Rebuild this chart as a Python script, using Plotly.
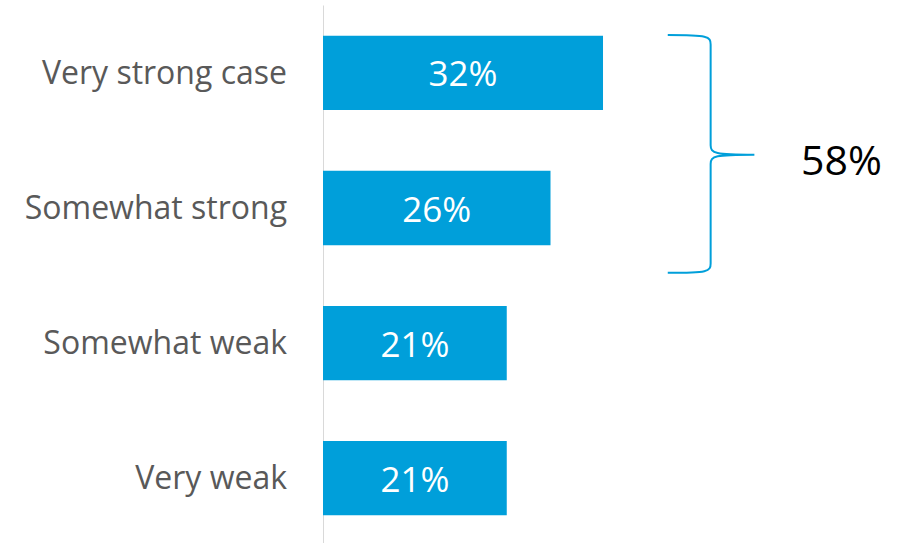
import plotly.graph_objects as go

# Survey responses: how strong is the case
categories = ["Very strong case", "Somewhat strong", "Somewhat weak", "Very weak"]
shares = [32, 26, 21, 21]
combined_label = "58%"   # Very strong + Somewhat strong

bar_color = "#009FDA"
font_family = "Open Sans, sans-serif"

fig = go.Figure(
    go.Bar(
        x=shares,
        y=categories,
        orientation="h",
        marker=dict(color=bar_color, line=dict(width=0)),
        width=0.55,
        text=[f"{v}%" for v in shares],
        textposition="inside",
        insidetextanchor="middle",
        textfont=dict(color="white", size=35, family=font_family),
        constraintext="none",
        hoverinfo="skip",
    )
)

# vertical baseline at x = 0
fig.add_shape(type="line", xref="x", yref="paper", x0=0, x1=0, y0=0, y1=0.99,
              line=dict(color="#D9D9D9", width=2), layer="below")

# curly brace grouping the two "strong" answers
bx0, bx1, bx2 = 39.4, 44.3, 49.3
ytop, ymid, ybot = -0.28, 0.605, 1.48
brace = (
    f"M {bx0},{ytop} "
    f"C {bx1 - 0.3},{ytop} {bx1},{ytop + 0.01} {bx1},{ytop + 0.07} "
    f"L {bx1},{ymid - 0.07} "
    f"C {bx1},{ymid - 0.01} {bx1 + 0.5},{ymid} {bx2},{ymid} "
    f"C {bx1 + 0.5},{ymid} {bx1},{ymid + 0.01} {bx1},{ymid + 0.07} "
    f"L {bx1},{ybot - 0.07} "
    f"C {bx1},{ybot - 0.01} {bx1 - 0.3},{ybot} {bx0},{ybot}"
)
fig.add_shape(type="path", xref="x", yref="y", path=brace,
              line=dict(color=bar_color, width=2))

fig.add_annotation(x=59.2, y=0.64, xref="x", yref="y", text=combined_label,
                   showarrow=False, xanchor="center", yanchor="middle",
                   font=dict(size=41, color="black", family=font_family))

fig.update_layout(
    width=907, height=543,
    margin=dict(l=323, r=0, t=0, b=0),
    paper_bgcolor="white", plot_bgcolor="white",
    showlegend=False,
    font=dict(family=font_family),
    xaxis=dict(range=[0, 66.74], visible=False, fixedrange=True),
    yaxis=dict(
        range=[3.48, -0.54],
        showgrid=False, zeroline=False, showline=False,
        ticks="", ticklabelstandoff=35,
        tickfont=dict(size=32, color="#595959", family=font_family),
        fixedrange=True,
    ),
)

fig.write_html("out.html")
